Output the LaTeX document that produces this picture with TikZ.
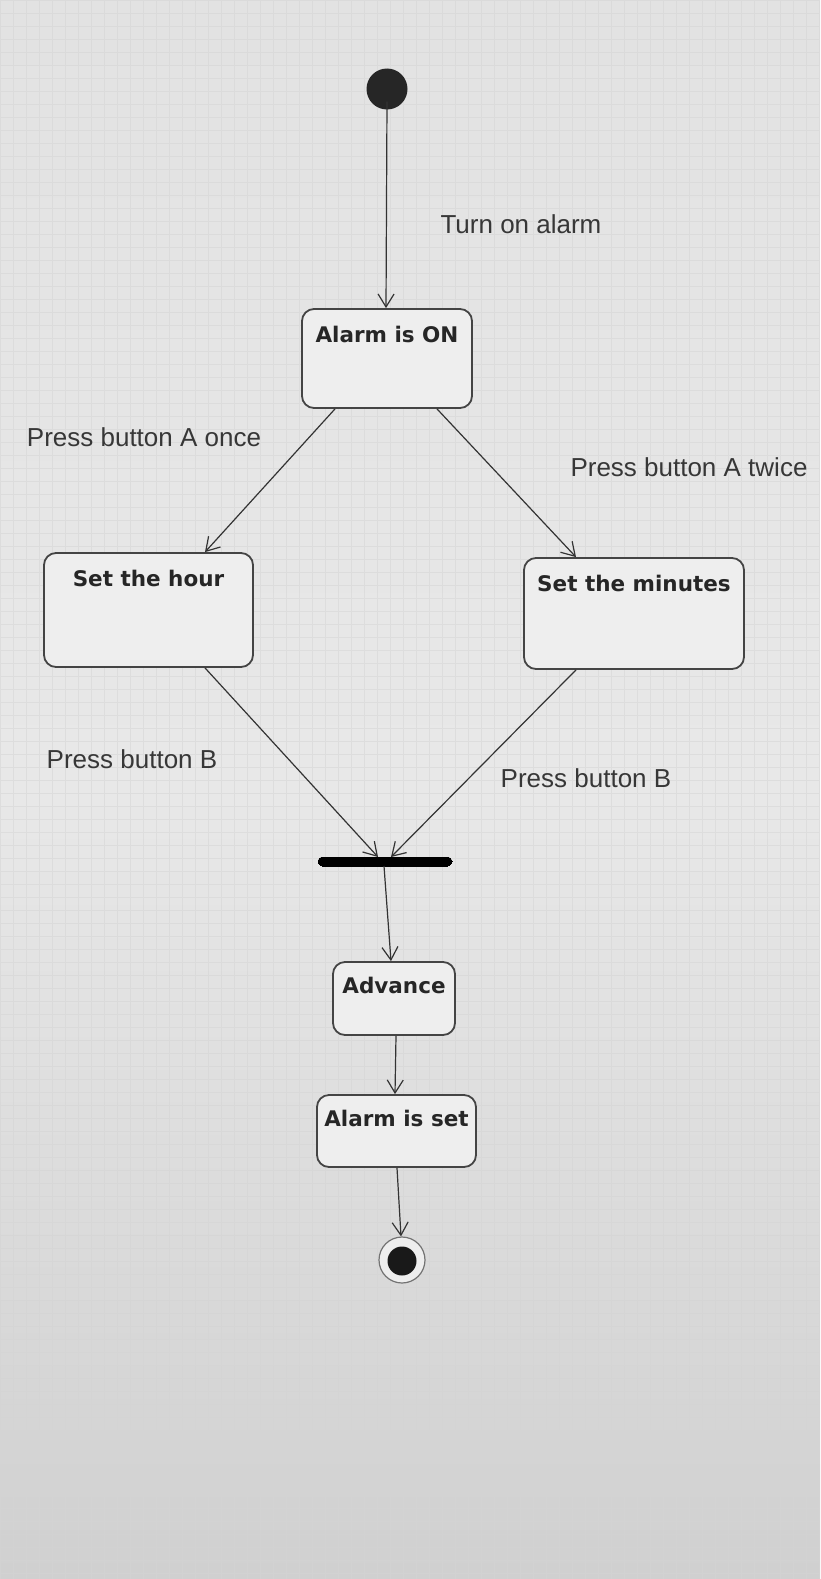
\documentclass[tikz,border=0pt]{standalone}
\usepackage{fontspec}
\setmainfont{Liberation Sans}
\newfontfamily\titlefont{DejaVu Sans}
\usetikzlibrary{arrows.meta,calc}
\definecolor{bgtop}{HTML}{E2E2E2}
\definecolor{bgmid}{HTML}{E8E8E8}
\definecolor{bgbot}{HTML}{D0D0D0}
\definecolor{gridc}{HTML}{D4D4D4}
\definecolor{linec}{HTML}{333333}
\definecolor{boxc}{HTML}{444444}
\definecolor{txtc}{HTML}{262626}
\tikzset{
  statebox/.style={draw=boxc, line width=1.8pt, rounded corners=12pt, fill=bgmid!75!white, inner sep=0pt},
  titletext/.style={font=\titlefont\bfseries\fontsize{21.5}{24}\selectfont, text=txtc, inner sep=0pt},
  lbl/.style={font=\fontsize{26}{30}\selectfont, text=txtc!92!white, inner sep=0pt},
  arr/.style={draw=linec, line width=1.2pt, -{Straight Barb[length=13pt,width=16pt,line width=1.2pt]}},
}
\begin{document}
\begin{tikzpicture}[x=1pt,y=-1pt]
\useasboundingbox (0,0) rectangle (820,1579);
\shade[top color=bgtop, bottom color=bgbot, middle color=bgmid] (0,0) rectangle (820,1579);
\draw[gridc, line width=0.5pt, opacity=0.5, step=13pt] (0,0) grid (820,1579);

% initial and final
\node[circle, fill=black!85, minimum size=41pt, inner sep=0pt] (init) at (387,89) {};
\node[circle, draw=black!55, line width=1.2pt, fill=bgmid!75!white, minimum size=46pt, inner sep=0pt] (final) at (402,1260) {};
\node[circle, fill=black!90, minimum size=29pt, inner sep=0pt] (finalin) at (402,1261) {};

% states
\node[statebox, minimum width=170pt, minimum height=99pt] (on) at (387,358.5) {};
\node[titletext] (onT) at (387,334) {Alarm is ON};
\node[statebox, minimum width=209pt, minimum height=114pt] (hour) at (148.5,610) {};
\node[titletext] (hourT) at (148.5,578) {Set the hour};
\node[statebox, minimum width=220pt, minimum height=111pt] (mins) at (634,613.5) {};
\node[titletext] (minsT) at (634,583) {Set the minutes};
\node[draw=black, fill=black, line width=0pt, rounded corners=4.5pt, minimum width=134pt, minimum height=9pt, inner sep=0pt] (bar) at (385,861.5) {};
\node[statebox, minimum width=122pt, minimum height=73pt] (adv) at (394,998.5) {};
\node[titletext] (advT) at (394,985) {Advance};
\node[statebox, minimum width=159pt, minimum height=72pt] (set) at (396.5,1131) {};
\node[titletext] (setT) at (396.5,1118) {Alarm is set};

% connectors
\draw[arr] ([yshift=8pt]init.south) -- ([xshift=-1pt]on.north);
\draw[arr] ([xshift=-52pt]on.south) -- ([xshift=56.5pt]hour.north);
\draw[arr] ([xshift=50pt]on.south) -- ([xshift=-58pt]mins.north);
\draw[arr] ([xshift=56.5pt]hour.south) -- ([xshift=-7pt]bar.north);
\draw[arr] ([xshift=-58pt]mins.south) -- ([xshift=6pt]bar.north);
\draw[arr] ([xshift=-1pt]bar.south) -- ([xshift=-3pt]adv.north);
\draw[arr] ([xshift=2pt]adv.south) -- ([xshift=-1.5pt]set.north);
\draw[arr] ([xshift=0.5pt]set.south) -- ([xshift=-1pt]final.north);

% labels
\node[lbl] (l1) at (521,224) {Turn on alarm};
\node[lbl] (l2) at (144,437) {Press button A once};
\node[lbl] (l3) at (689,467) {Press button A twice};
\node[lbl] (l4) at (132,759) {Press button B};
\node[lbl] (l5) at (586,778) {Press button B};
\end{tikzpicture}
\end{document}
